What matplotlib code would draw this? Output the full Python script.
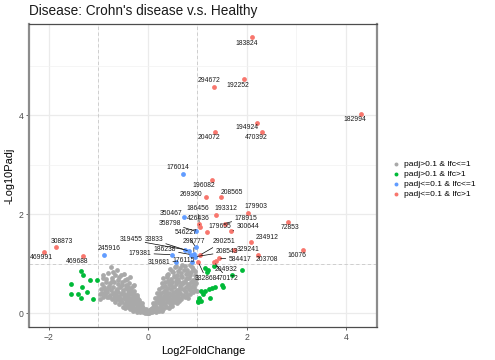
import matplotlib
matplotlib.use("Agg")
import matplotlib.pyplot as plt
from matplotlib.text import Text
import numpy as np

plt.rcParams['font.family'] = ['Liberation Sans', 'DejaVu Sans']

title = "Disease: Crohn's disease v.s. Healthy"
x_label = "Log2FoldChange"
y_label = "-Log10Padj"
legend_labels = ["padj>0.1 & lfc<=1", "padj>0.1 & lfc>1",
                 "padj<=0.1 & lfc<=1", "padj<=0.1 & lfc>1"]
colors = ["#A9A9A9", "#00BA38", "#619CFF", "#F8766D"]
x_ticks = [-2, 0, 2, 4]
y_ticks = [0, 2, 4]

# non-significant genes (grey cloud)
gray_x = [-0.75, -0.62, -0.80, -0.66, -0.48, -0.90, -0.72, -0.58, -0.42, -0.35,
          -0.93, -0.85, -0.76, -0.68, -0.60, -0.52, -0.45, -0.38, -0.30,
          -0.95, -0.88, -0.80, -0.74, -0.70, -0.63, -0.57, -0.50, -0.44, -0.39, -0.33, -0.27,
          -0.92, -0.86, -0.82, -0.77, -0.71, -0.66, -0.61, -0.55, -0.51, -0.46, -0.41, -0.36, -0.31, -0.26, -0.22,
          -0.90, -0.83, -0.78, -0.73, -0.68, -0.63, -0.58, -0.54, -0.49, -0.45, -0.40, -0.35, -0.31, -0.27, -0.23, -0.19,
          -0.66, -0.59, -0.53, -0.47, -0.42, -0.37, -0.33, -0.29, -0.25, -0.21, -0.18, -0.15, -0.12,
          -0.50, -0.46, -0.40, -0.35, -0.30, -0.26, -0.22, -0.19, -0.16, -0.13, -0.10, -0.08,
          -0.30, -0.22, -0.15, -0.10, -0.06, -0.03, -0.01,
          -0.90, -0.97, -0.87,
          -0.85, -0.79, -0.73, -0.69, -0.64, -0.60, -0.56, -0.53, -0.49, -0.47, -0.43, -0.40,
          -0.37, -0.34, -0.32, -0.29, -0.27, -0.24, -0.21, -0.19, -0.17, -0.14, -0.11, -0.09,
          -0.07, -0.05, -0.04, -0.02, -0.55, -0.70, -0.84, -0.96, -0.62, -0.42, -0.36, -0.28,
          0.45, 0.55, 0.65, 0.75, 0.85, 0.92, 0.80,
          0.40, 0.50, 0.58, 0.68, 0.78, 0.88, 0.95,
          0.30, 0.38, 0.46, 0.54, 0.62, 0.70, 0.77, 0.84, 0.91, 0.97,
          0.28, 0.35, 0.42, 0.49, 0.56, 0.63, 0.69, 0.75, 0.81, 0.87, 0.93, 0.98,
          0.22, 0.29, 0.35, 0.41, 0.47, 0.53, 0.59, 0.65, 0.71, 0.77, 0.83, 0.89, 0.95,
          0.18, 0.24, 0.30, 0.36, 0.42, 0.48, 0.54, 0.60, 0.66, 0.72, 0.78, 0.85, 0.92,
          0.14, 0.20, 0.26, 0.32, 0.38, 0.44, 0.50, 0.56, 0.62, 0.68, 0.75, 0.82,
          0.10, 0.15, 0.20, 0.25, 0.30, 0.35, 0.40, 0.46, 0.52, 0.58, 0.64,
          0.06, 0.10, 0.14, 0.18, 0.22, 0.26, 0.31, 0.36, 0.42, 0.48,
          0.02, 0.05, 0.08, 0.12, 0.17, 0.23, 0.28,
          0.38, 0.81, 0.05, -0.05, 0.00,
          0.02, 0.04, 0.07, 0.09, 0.12, 0.13, 0.16, 0.17, 0.20, 0.23, 0.25, 0.27,
          0.28, 0.32, 0.33, 0.34, 0.37, 0.39, 0.41, 0.43, 0.44, 0.47, 0.49, 0.51,
          0.52, 0.55, 0.57, 0.60, 0.61, 0.63, 0.66, 0.67, 0.70, 0.72, 0.73, 0.76,
          0.79, 0.80, 0.83, 0.86, 0.88, 0.90, 0.91, 0.94, 0.96, 0.98, 0.99, 0.57,
          0.70, 0.48]
gray_y = [0.93, 0.88, 0.81, 0.78, 0.80, 0.70, 0.70, 0.72, 0.68, 0.74,
          0.58, 0.62, 0.60, 0.63, 0.58, 0.62, 0.57, 0.60, 0.55,
          0.48, 0.52, 0.50, 0.47, 0.53, 0.49, 0.52, 0.47, 0.50, 0.46, 0.50, 0.45,
          0.40, 0.38, 0.43, 0.37, 0.41, 0.38, 0.43, 0.39, 0.42, 0.37, 0.41, 0.38, 0.42, 0.37, 0.36,
          0.32, 0.33, 0.32, 0.29, 0.31, 0.28, 0.33, 0.29, 0.31, 0.27, 0.32, 0.28, 0.31, 0.27, 0.30, 0.28,
          0.23, 0.19, 0.22, 0.18, 0.22, 0.19, 0.23, 0.18, 0.21, 0.17, 0.22, 0.18, 0.20,
          0.13, 0.11, 0.13, 0.09, 0.12, 0.08, 0.11, 0.07, 0.10, 0.06, 0.09, 0.05,
          0.05, 0.03, 0.02, 0.03, 0.01, 0.02, 0.00,
          0.77, 0.29, 0.47,
          0.45, 0.55, 0.64, 0.36, 0.45, 0.67, 0.24, 0.57, 0.36, 0.66, 0.30, 0.53,
          0.25, 0.44, 0.15, 0.36, 0.56, 0.25, 0.33, 0.14, 0.26, 0.13, 0.15, 0.11,
          0.07, 0.04, 0.08, 0.03, 0.78, 0.84, 0.68, 0.38, 0.35, 0.16, 0.14, 0.10,
          0.90, 0.93, 0.91, 0.95, 0.97, 0.90, 0.88,
          0.80, 0.83, 0.78, 0.82, 0.79, 0.83, 0.78,
          0.70, 0.73, 0.68, 0.72, 0.69, 0.73, 0.68, 0.71, 0.67, 0.72,
          0.60, 0.63, 0.58, 0.62, 0.59, 0.63, 0.58, 0.62, 0.59, 0.62, 0.57, 0.61,
          0.48, 0.52, 0.47, 0.51, 0.48, 0.52, 0.47, 0.51, 0.48, 0.53, 0.49, 0.52, 0.47,
          0.40, 0.37, 0.42, 0.38, 0.41, 0.37, 0.42, 0.38, 0.41, 0.37, 0.42, 0.39, 0.43,
          0.30, 0.27, 0.31, 0.28, 0.32, 0.27, 0.31, 0.28, 0.32, 0.29, 0.33, 0.31,
          0.20, 0.17, 0.22, 0.18, 0.21, 0.17, 0.22, 0.19, 0.23, 0.20, 0.24,
          0.08, 0.12, 0.07, 0.11, 0.08, 0.12, 0.09, 0.13, 0.11, 0.14,
          0.01, 0.03, 0.02, 0.04, 0.03, 0.04, 0.05,
          0.77, 0.81, 0.06, 0.06, 0.01,
          0.04, 0.06, 0.09, 0.05, 0.10, 0.16, 0.22, 0.13, 0.33, 0.25, 0.40, 0.14,
          0.24, 0.35, 0.20, 0.55, 0.45, 0.25, 0.65, 0.33, 0.15, 0.56, 0.23, 0.42,
          0.75, 0.34, 0.65, 0.86, 0.27, 0.46, 0.55, 0.76, 0.34, 0.62, 0.88, 0.45,
          0.70, 0.37, 0.56, 0.77, 0.45, 0.93, 0.62, 0.53, 0.85, 0.68, 0.45, 0.95,
          0.97, 0.86]

# fold change > 1 but not significant
green_x = [-1.35, -1.31, -1.17, -1.02, -1.56, -1.33, -1.23, -1.55, -1.41, -1.35, -1.11,
           1.34, 1.91, 1.71, 1.15, 1.22, 1.19, 1.49, 1.51, 1.35, 1.29, 1.24, 1.15,
           1.08, 1.12, 1.25, 1.04, 1.02, 1.07, 1.01]
green_y = [0.85, 0.77, 0.67, 0.67, 0.59, 0.53, 0.42, 0.38, 0.38, 0.31, 0.28,
           0.96, 0.87, 0.77, 0.91, 0.87, 0.84, 0.57, 0.52, 0.52, 0.51, 0.49, 0.45,
           0.44, 0.38, 0.30, 0.30, 0.25, 0.25, 0.22]

# significant genes (labelled)
sig_ids = ["183824", "294672", "192252", "182994", "194924", "470392", "204072",
           "176014", "196082", "269360", "208565", "179903", "193312", "178915",
           "72853", "186456", "426436", "350467", "358798", "179655", "300644",
           "546227", "234912", "319455", "33833", "298777", "290251", "308873",
           "179381", "186238", "208543", "329241", "469991", "245916", "469688",
           "319681", "176115", "584417", "203708", "16076", "204932", "332868",
           "470172"]
sig_x = [2.11, 1.33, 1.95, 4.30, 2.20, 2.30, 1.35,
         0.72, 1.29, 1.17, 1.47, 2.03, 1.37, 1.55,
         2.84, 1.04, 1.06, 0.735, 0.98, 1.20, 1.68,
         0.97, 2.09, 0.76, 0.84, 0.93, 1.05, -1.86,
         0.49, 0.88, 0.96, 1.75, -2.09, -0.89, -1.30,
         0.57, 0.89, 1.43, 2.22, 3.13, 1.38, 1.02,
         1.34]
sig_y = [5.58, 4.57, 4.72, 4.03, 3.84, 3.65, 3.65,
         2.82, 2.69, 2.34, 2.34, 2.03, 1.99, 1.81,
         1.84, 1.80, 1.74, 1.95, 1.65, 1.64, 1.65,
         1.33, 1.43, 1.28, 1.25, 1.20, 1.17, 1.33,
         1.18, 1.18, 1.14, 1.28, 1.24, 1.18, 1.16,
         1.04, 1.04, 1.11, 1.18, 1.28, 1.06, 1.03,
         1.03]

# label text positions (repelled layout)
label_x = [1.99, 1.23, 1.81, 4.18, 2.01, 2.18, 1.23,
           0.61, 1.13, 0.88, 1.70, 2.18, 1.58, 1.98,
           2.87, 1.01, 1.01, 0.47, 0.44, 1.46, 2.02,
           0.77, 2.40, -0.34, 0.12, 0.93, 1.53, -1.74,
           -0.16, 0.34, 1.60, 2.03, -2.14, -0.79, -1.43,
           0.22, 0.73, 1.86, 2.41, 3.02, 1.58, 1.18,
           1.61]
label_y = [5.45, 4.69, 4.60, 3.92, 3.74, 3.54, 3.54,
           2.94, 2.57, 2.39, 2.43, 2.15, 2.12, 1.92,
           1.72, 2.12, 1.92, 2.02, 1.82, 1.75, 1.75,
           1.63, 1.53, 1.48, 1.48, 1.45, 1.45, 1.45,
           1.21, 1.28, 1.24, 1.28, 1.13, 1.30, 1.04,
           1.03, 1.06, 1.09, 1.09, 1.16, 0.89, 0.69,
           0.69]

all_x = np.array(gray_x + green_x + sig_x)
all_y = np.array(gray_y + green_y + sig_y)
cat = (all_y > 1).astype(int) * 2 + (np.abs(all_x) > 1).astype(int)

fig = plt.figure(figsize=(4.95, 3.6), dpi=100)
ax = fig.add_axes([29/495, 1 - 327/360, (377 - 29)/495, (327 - 24)/360])

handles = []
for k in range(4):
    m = cat == k
    ax.scatter(all_x[m], all_y[m], s=12, color=colors[k], linewidths=0, zorder=3)
    handles.append(ax.scatter([], [], s=8, color=colors[k], linewidths=0))

ax.set_xlim(-2.40, 4.63)
ax.set_ylim(-0.28, 5.84)
ax.set_xticks(x_ticks)
ax.set_yticks(y_ticks)
ax.set_xticks([-1, 1, 3], minor=True)
ax.set_yticks([1, 3, 5], minor=True)
ax.set_axisbelow(True)
ax.grid(which='major', color='#EBEBEB', lw=0.9)
ax.grid(which='minor', color='#F2F2F2', lw=0.5)
ax.tick_params(which='minor', length=0)
ax.tick_params(which='major', labelsize=6.2, labelcolor='#4D4D4D', color='#4D4D4D',
               length=2.5, width=0.6, pad=1.5)
for s in ['left', 'right']:
    ax.spines[s].set_color('#8C8C8C')
    ax.spines[s].set_linewidth(1.6)
for s in ['top', 'bottom']:
    ax.spines[s].set_color('#4D4D4D')
    ax.spines[s].set_linewidth(0.9)

for v in (-1, 1):
    ax.axvline(v, color='#C8C8C8', lw=0.6, ls=(0, (4, 3)), zorder=1)
ax.axhline(1, color='#C8C8C8', lw=0.6, ls=(0, (4, 3)), zorder=1)

anns = []
for gid, px, py, lx, ly in zip(sig_ids, sig_x, sig_y, label_x, label_y):
    a = ax.annotate(gid, xy=(px, py), xytext=(lx, ly), ha='center', va='center',
                    fontsize=4.9, color='#1A1A1A', zorder=4,
                    arrowprops=dict(arrowstyle='-', color='black', lw=0.5,
                                    shrinkA=0, shrinkB=1.5))
    anns.append(a)

fig.canvas.draw()
r = fig.canvas.get_renderer()
for a, px, py in zip(anns, sig_x, sig_y):
    bb = Text.get_window_extent(a, r)
    dx_, dy_ = ax.transData.transform((px, py))
    dx = max(bb.x0 - dx_, 0, dx_ - bb.x1)
    dy = max(bb.y0 - dy_, 0, dy_ - bb.y1)
    if np.hypot(dx, dy) < 5:
        a.arrow_patch.set_visible(False)

fig.text(29/495, 1 - 11/360, title, fontsize=9.8, ha='left', va='center', color='#1A1A1A')
ax.set_xlabel(x_label, fontsize=7.9, labelpad=3)
ax.set_ylabel(y_label, fontsize=7.9, labelpad=3)

fig.legend(handles, legend_labels, loc='center left', bbox_to_anchor=(392/495, 1 - 179/360),
           frameon=False, fontsize=6.1, labelspacing=0.25, handletextpad=0.4,
           handlelength=1.0, borderpad=0, borderaxespad=0)

fig.savefig("out.png", dpi=100)
